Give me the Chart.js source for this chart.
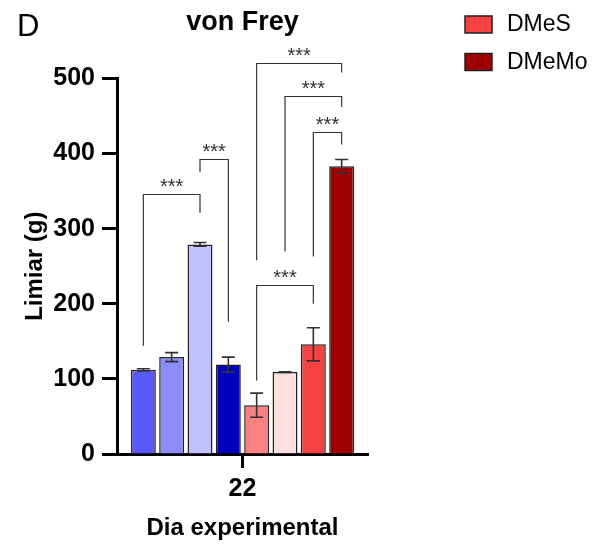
<!DOCTYPE html>
<html>
<head>
<meta charset="utf-8">
<script src="https://cdn.jsdelivr.net/npm/chart.js@4.4.1/dist/chart.umd.min.js"></script>
<style>
html, body { margin: 0; padding: 0; background: #fff; }
#wrap { width: 595px; height: 546px; position: relative; }
</style>
</head>
<body>
<div id="wrap"><canvas id="chart"></canvas></div>
<script>
const categories = ['22'];
const groupNames = ['Grupo 1', 'Grupo 2', 'Grupo 3', 'Grupo 4', 'Grupo 5', 'Grupo 6', 'DMeS', 'DMeMo'];
const means = [112, 129, 279, 119, 65, 109, 146, 383];
const errors = [1.5, 6, 2.5, 10, 16, 0.5, 22, 9];
const groupColors = ['#5858f8', '#8c8cfb', '#c0c0fd', '#0000c0', '#fb8080', '#fde0e0', '#f84242', '#a00000'];
const legendNames = ['DMeS', 'DMeMo'];
const yTicks = [0, 100, 200, 300, 400, 500];

// significance brackets (group index pairs, height of the bracket, where each leg stops, in g)
const bracketFrom = [0, 2, 4, 4, 5, 6];
const bracketTo = [2, 3, 6, 7, 7, 7];
const bracketTop = [346, 393, 225, 520, 476, 428];
const bracketLeftEnd = [144, 375, 98, 258, 270, 263];
const bracketRightEnd = [321, 176, 200, 508, 462, 412];
const bracketLabel = ['***', '***', '***', '***', '***', '***'];

Chart.defaults.font.family = "'Liberation Sans', Arial, sans-serif";
Chart.defaults.color = '#000';

const errorBars = {
    id: 'errorBars',
    afterDatasetsDraw(chart) {
        const ctx = chart.ctx;
        const y = chart.scales.y;
        ctx.save();
        ctx.strokeStyle = '#333';
        ctx.lineWidth = 1.6;
        chart.data.datasets.forEach((ds, i) => {
            const bar = chart.getDatasetMeta(i).data[0];
            const top = y.getPixelForValue(means[i] + errors[i]);
            const bot = y.getPixelForValue(means[i] - errors[i]);
            ctx.beginPath();
            ctx.moveTo(bar.x, top); ctx.lineTo(bar.x, bot);
            ctx.moveTo(bar.x - 6.5, top); ctx.lineTo(bar.x + 6.5, top);
            ctx.moveTo(bar.x - 6.5, bot); ctx.lineTo(bar.x + 6.5, bot);
            ctx.stroke();
        });
        ctx.restore();
    }
};

const brackets = {
    id: 'brackets',
    afterDatasetsDraw(chart) {
        const ctx = chart.ctx;
        const y = chart.scales.y;
        ctx.save();
        ctx.strokeStyle = '#333';
        ctx.lineWidth = 1.2;
        ctx.fillStyle = '#333';
        ctx.font = "20px 'Liberation Sans', Arial";
        ctx.textAlign = 'center';
        ctx.textBaseline = 'alphabetic';
        bracketFrom.forEach((a, k) => {
            const x1 = chart.getDatasetMeta(a).data[0].x;
            const x2 = chart.getDatasetMeta(bracketTo[k]).data[0].x;
            const yt = Math.round(y.getPixelForValue(bracketTop[k])) + 0.5;
            ctx.beginPath();
            ctx.moveTo(x1, y.getPixelForValue(bracketLeftEnd[k]));
            ctx.lineTo(x1, yt);
            ctx.lineTo(x2, yt);
            ctx.lineTo(x2, y.getPixelForValue(bracketRightEnd[k]));
            ctx.stroke();
            ctx.fillText(bracketLabel[k], (x1 + x2) / 2, yt - 2);
        });
        ctx.restore();
    }
};

const sideLegend = {
    id: 'sideLegend',
    afterDraw(chart) {
        const ctx = chart.ctx;
        ctx.save();
        // panel letter
        ctx.fillStyle = '#000';
        ctx.font = "31px 'Liberation Sans', Arial";
        ctx.textBaseline = 'alphabetic';
        ctx.fillText('D', 17, 36);
        ctx.font = "23px 'Liberation Sans', Arial";
        ctx.textBaseline = 'middle';
        legendNames.forEach((name, k) => {
            const ds = chart.data.datasets.find(d => d.label === name);
            const top = 16 + k * 37.5;
            ctx.fillStyle = ds.backgroundColor;
            ctx.fillRect(465, top, 27, 17);
            ctx.strokeStyle = '#222';
            ctx.lineWidth = 1.5;
            ctx.strokeRect(465, top, 27, 17);
            ctx.fillStyle = '#000';
            ctx.fillText(name, 507, top + 9);
        });
        ctx.restore();
    }
};

new Chart(document.getElementById('chart').getContext('2d'), {
    type: 'bar',
    data: {
        labels: categories,
        datasets: groupNames.map((name, i) => ({
            label: name,
            data: [means[i]],
            backgroundColor: groupColors[i],
            borderColor: '#222',
            borderWidth: 1.5,
            categoryPercentage: 0.903,
            barPercentage: 0.88
        }))
    },
    options: {
        responsive: true,
        maintainAspectRatio: false,
        animation: false,
        layout: { padding: { left: 0, right: 227, top: 0, bottom: 0 } },
        plugins: {
            legend: { display: false },
            tooltip: { enabled: false },
            title: {
                display: true,
                text: 'von Frey',
                fullSize: false,
                font: { size: 27, weight: 'bold' },
                padding: { top: 6, bottom: 40 }
            }
        },
        scales: {
            x: {
                grid: { drawOnChartArea: false, offset: false, tickLength: 14, tickWidth: 3, tickColor: '#000' },
                border: { color: '#000', width: 3 },
                ticks: { font: { size: 25, weight: 'bold' }, padding: 6 },
                title: { display: true, text: 'Dia experimental', font: { size: 24, weight: 'bold' }, padding: { top: 0, bottom: 3 } },
                afterFit(scale) { scale.height = 92; }
            },
            y: {
                min: 0,
                max: 500,
                afterBuildTicks(scale) { scale.ticks = yTicks.map(v => ({ value: v })); },
                grid: { drawOnChartArea: false, tickLength: 15, tickWidth: 3, tickColor: '#000' },
                border: { color: '#000', width: 3 },
                ticks: { font: { size: 25, weight: 'bold' }, padding: 7 },
                title: { display: true, text: 'Limiar (g)', font: { size: 24, weight: 'bold' }, padding: { top: 21, bottom: 0 } },
                afterFit(scale) { scale.width = 117; }
            }
        }
    },
    plugins: [errorBars, brackets, sideLegend]
});
</script>
</body>
</html>
